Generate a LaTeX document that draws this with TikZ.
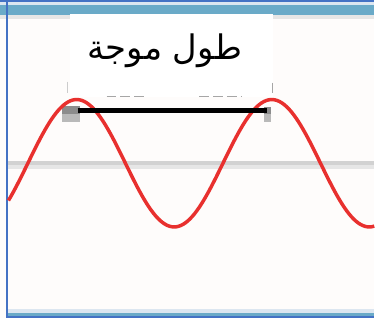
\documentclass[tikz,border=0pt]{standalone}
\usepackage{fontspec}
\newfontfamily\arabicfont[Script=Arabic]{DejaVu Sans}
\TeXXeTstate=1
\usepackage{xcolor}
\usepackage{tikz}
\usetikzlibrary{positioning}

\definecolor{pagebg}{HTML}{FEFCFB}
\definecolor{frameblue}{HTML}{4472C4}
\definecolor{bandteal}{HTML}{6AAAC8}
\definecolor{bandlight}{HTML}{DCE6F0}
\definecolor{axisgray}{HTML}{D2D2D2}
\definecolor{axislight}{HTML}{E6E6E6}
\definecolor{wavered}{HTML}{E8302E}

\begin{document}
\begin{tikzpicture}[
    x=1pt, y=-1pt,
    wave/.style={draw=wavered, line width=3.5pt},
    labelbox/.style={fill=white, draw=none, minimum width=204pt, minimum height=83pt, inner sep=0pt},
    labeltext/.style={font=\fontsize{34}{38}\selectfont\arabicfont, inner sep=0pt},
    barline/.style={draw=black, line width=5pt},
    endcap/.style={fill=gray!110!black, draw=none},
    endcaplow/.style={fill=gray!55, draw=none},
    hiddenedge/.style={draw=gray!70, line width=1.2pt, dash pattern=on 10pt off 4pt}
]
% page and frame
\fill[pagebg] (0,0) rectangle (376,323);
\fill[white] (0,319) rectangle (376,323);
\fill[frameblue] (0,0) rectangle (376,2);
\fill[bandlight] (0,2) rectangle (376,5);
\fill[bandteal] (0,5) rectangle (376,15);
\fill[axislight] (0,15) rectangle (376,19);
\fill[bandlight] (6,310) rectangle (376,314);
\fill[bandteal] (6,314) rectangle (376,317);
\fill[frameblue] (6,317) rectangle (376,319.5);
\fill[frameblue] (6,2) rectangle (8.5,319.5);

% axis
\fill[axisgray] (8.5,162) rectangle (376,165.5);
\fill[axislight] (8.5,165.5) rectangle (376,170);

% wavelength bar ends
\fill[endcaplow] (62,115) rectangle (80,123);
\fill[endcaplow] (265,115) rectangle (272,123);
\fill[endcap] (62,106) rectangle (80,115);
\fill[endcap] (265,107) rectangle (272,115);

% the wave
\draw[wave] plot[domain=8.5:376, samples=160] (\x, {164-64*sin((\x-28)/196*360)});

% label
\node[labelbox] (box) at (172,55.5) {};
\node[labeltext] (lbl) at (165.5,51) {\beginR طول موجة\endR};
\draw[hiddenedge] (107,97) -- (145,97);
\draw[hiddenedge] (200,97) -- (243,97);
\draw[gray!40, line width=1pt] (68,82) -- (68,93);
\draw[gray!70, line width=1pt] (274,83) -- (274,93);

% wavelength bar
\coordinate (barL) at (78,111);
\coordinate (barR) at (268,111);
\draw[barline] (barL) -- (barR);
\end{tikzpicture}
\end{document}
